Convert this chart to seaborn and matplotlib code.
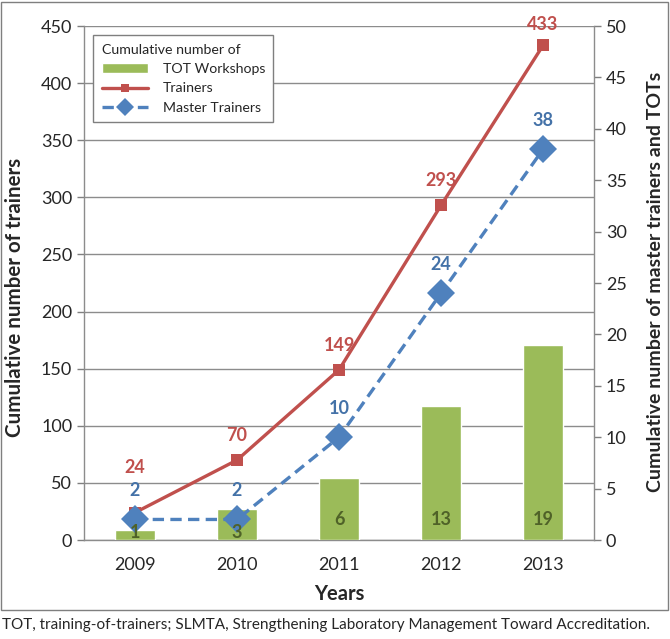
import numpy as np
import pandas as pd
import seaborn as sns
import matplotlib.pyplot as plt
from matplotlib.patches import Rectangle

years = ['2009', '2010', '2011', '2012', '2013']
tot_workshops = [1, 3, 6, 13, 19]
trainers = [24, 70, 149, 293, 433]
master_trainers = [2, 2, 10, 24, 38]

green = '#9BBB59'
red = '#C0504D'
blue = '#4F81BD'

sns.set_theme(style='white')
plt.rcParams['font.family'] = ['Lato', 'DejaVu Sans']

df = pd.DataFrame({'year': years, 'pos': np.arange(len(years)),
                   'tot': tot_workshops, 'trainers': trainers, 'master': master_trainers})

fig = plt.figure(figsize=(6.7, 6.39), dpi=100)
ax = fig.add_axes([0.1254, 0.1549, 0.7612, 0.8044])
ax2 = ax.twinx()

# bars + master trainers on right axis, trainers on left
sns.barplot(data=df, x='year', y='tot', ax=ax2, color=green, saturation=1,
            width=0.4, errorbar=None)
sns.lineplot(data=df, x='pos', y='trainers', ax=ax, color=red, lw=2.4,
             marker='s', markersize=9, markeredgewidth=0, legend=False)
sns.lineplot(data=df, x='pos', y='master', ax=ax2, color=blue, lw=2.4,
             linestyle=(0, (3.4, 1.9)), marker='D', markersize=14,
             markeredgewidth=0, legend=False)

ax.set_xlim(-0.5, 4.5)
ax2.set_xlim(-0.5, 4.5)
ax.set_ylim(0, 450)
ax2.set_ylim(0, 50)
ax.set_yticks(np.arange(0, 451, 50))
ax2.set_yticks(np.arange(0, 51, 5))
ax.set_xticks(np.arange(len(years)))
ax.set_xticklabels(years)
ax.set_xticks(np.arange(-0.5, 4.6, 1), minor=True)

ax.grid(axis='y', color='#8c8c8c', lw=1)
ax.set_axisbelow(True)

for a in (ax, ax2):
    for s in a.spines.values():
        s.set_visible(False)
    a.tick_params(axis='both', labelsize=13, colors='#7f7f7f', labelcolor='#262626',
                  length=5, width=1, direction='out')
ax.spines['left'].set_visible(True)
ax.spines['bottom'].set_visible(True)
ax2.spines['right'].set_visible(True)
for s in (ax.spines['left'], ax.spines['bottom'], ax2.spines['right']):
    s.set_color('#8c8c8c')
    s.set_linewidth(1)
ax.tick_params(axis='x', which='major', length=0, pad=12)
ax.tick_params(axis='x', which='minor', length=4, width=1, colors='#8c8c8c', direction='out')
ax.tick_params(axis='y', left=True)
ax2.tick_params(axis='y', right=True)
ax2.set_xlabel('')

ax.set_xlabel('Years', fontsize=14.5, fontweight='bold', labelpad=8)
ax.set_ylabel('Cumulative number of trainers', fontsize=14.8, fontweight='bold')
ax.yaxis.set_label_coords(-0.116, 0.472)
ax2.set_ylabel('Cumulative number of master trainers and TOTs', fontsize=14,
               fontweight='bold', rotation=90)
ax2.yaxis.set_label_coords(1.104, 0.502)

# data labels
red_off = [45, 25, 24, 25, 21]
for i, v in enumerate(trainers):
    ax.annotate(str(v), (i, v), xytext=(0, red_off[i] * 0.72), textcoords='offset points',
                ha='center', va='center', color=red, fontsize=13, fontweight='bold')
for i, v in enumerate(master_trainers):
    ax2.annotate(str(v), (i, v), xytext=(0, 21), textcoords='offset points',
                 ha='center', va='center', color='#4472A8', fontsize=13, fontweight='bold')
for i, v in enumerate(tot_workshops):
    ax2.text(i, 2.0 if v >= 4 else 0.75, str(v), ha='center', va='center',
             color='#4F6228', fontsize=13, fontweight='bold')

handles = [ax2.patches[0], ax.lines[0], ax2.lines[-1]]
leg = ax2.legend(handles, ['TOT Workshops', 'Trainers', 'Master Trainers'],
                 title='Cumulative number of', loc='upper left',
                 bbox_to_anchor=(0.018, 0.982), borderaxespad=0, fontsize=10.2,
                 title_fontsize=10.2, alignment='left', fancybox=False,
                 edgecolor='#7f7f7f', framealpha=1, handlelength=3.3,
                 handletextpad=1.0, labelspacing=0.52, borderpad=0.6,
                 markerscale=0.65)
leg.get_frame().set_linewidth(1)

fig.patches.append(Rectangle((0.002, 0.046), 0.995, 0.951, transform=fig.transFigure,
                             fill=False, edgecolor='#7f7f7f', lw=1))
fig.text(0.003, 0.022, 'TOT, training-of-trainers; SLMTA, Strengthening Laboratory '
         'Management Toward Accreditation.', fontsize=11, va='center', ha='left',
         color='#262626')

fig.savefig('out.png', dpi=100)
